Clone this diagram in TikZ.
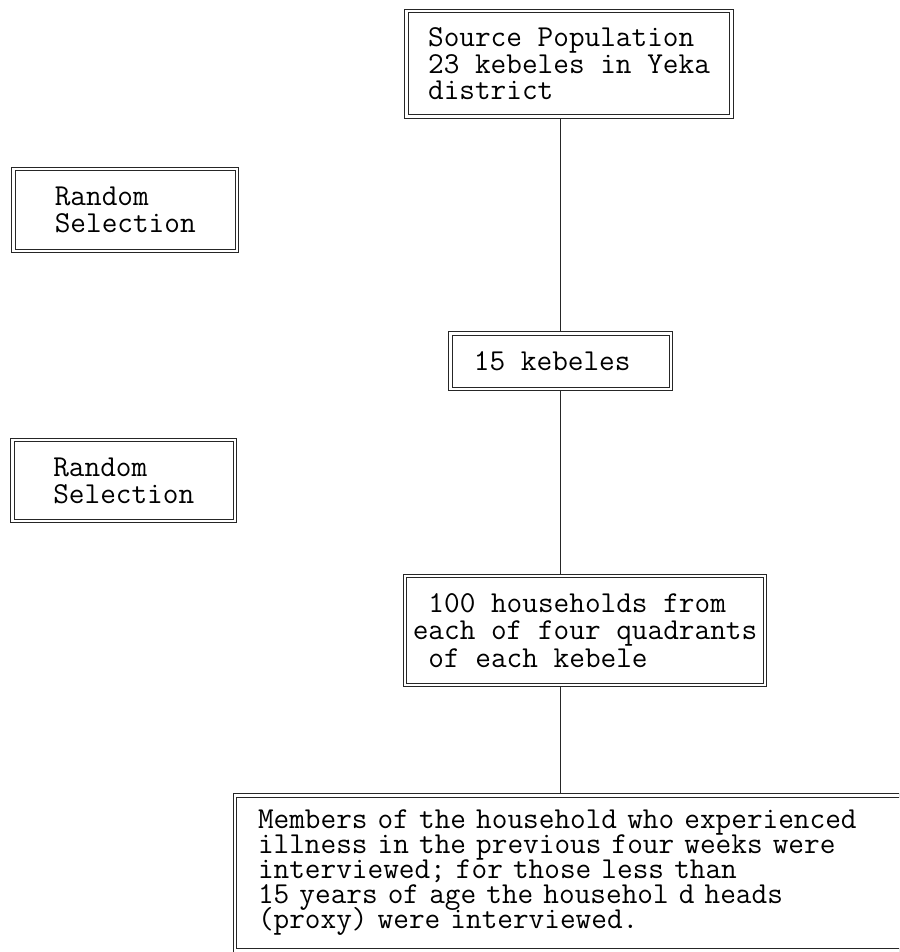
\documentclass[tikz,border=0pt]{standalone}
\usetikzlibrary{backgrounds}
\newcommand\boxfontsz[1]{\ttfamily\fontsize{30.4}{#1}\selectfont\lineskiplimit=-100pt\relax}
\begin{document}
\begin{tikzpicture}[x=1pt,y=-1pt,
  box/.style={draw=black!85, double=white, double distance=2.2pt, line width=1.3pt,
    fill=white, inner sep=0pt, align=left, text=black, font=\boxfontsz{26.5}},
  conn/.style={draw=black!85, line width=1.2pt}]
\useasboundingbox (0,0) rectangle (899,952);
\clip (0,0) rectangle (899,952);
\node[box, minimum width=325pt, minimum height=105.5pt] (src) at (569,63.75)
  {Source Population\\23 kebeles in Yeka\\district};
\node[box, minimum width=223.5pt, minimum height=82pt,
  font=\boxfontsz{27}] (rs1) at (125.25,210) {Random\\Selection};
\node[box, minimum width=222.5pt, minimum height=81pt,
  font=\boxfontsz{27}] (rs2) at (123.75,480.5) {Random\\Selection};
\node[box, minimum width=220.5pt, minimum height=55.5pt] (keb) at (560.75,361.25)
  {15 kebeles\hspace*{17pt}};
\node[box, minimum width=360pt, minimum height=109pt,
  font=\boxfontsz{27.5}] (hh) at (585,630.5)
  {\phantom{0}100 households from\\each of four quadrants\\\phantom{0}of each kebele};
\node[box, minimum width=675pt, minimum height=155pt, text width=629pt, inner xsep=23pt,
  font=\boxfontsz{25}] (mem) at (572.5,873)
  {Members of the household who experienced\\illness in the previous four weeks were\\interviewed; for those less than\\15 years of age the househol d heads\\(proxy) were interviewed.};
\begin{scope}[on background layer]
\draw[conn] (keb.north) -- (keb.north |- src.south);
\draw[conn] (keb.south) -- (keb.south |- hh.north);
\draw[conn] (hh.south -| keb.south) -- (keb.south |- mem.north);
\end{scope}
\end{tikzpicture}
\end{document}
